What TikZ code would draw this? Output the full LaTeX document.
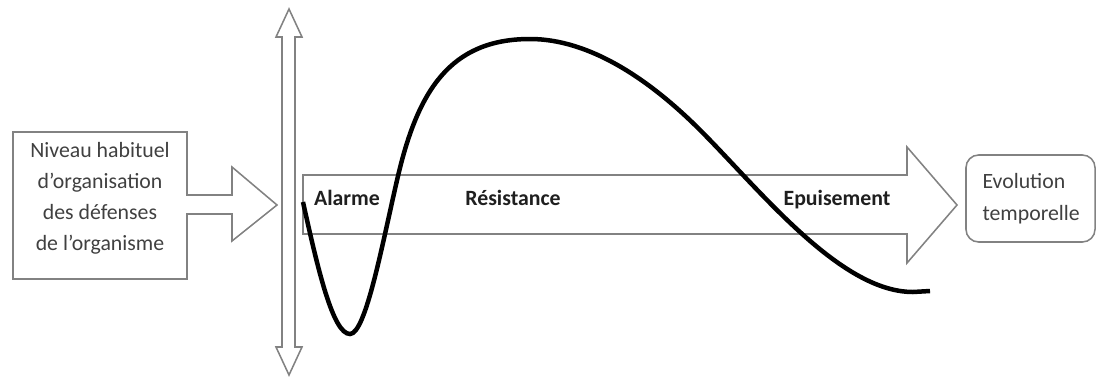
\documentclass[tikz,border=0pt]{standalone}
\usepackage{fontspec}
\setmainfont{Carlito}
\usepackage{xcolor}
\usepackage{tikz}
\usetikzlibrary{positioning}
\definecolor{bord}{HTML}{828282}
\definecolor{ink}{HTML}{404040}

\begin{document}
\begin{tikzpicture}[x=0.025cm,y=-0.025cm,
  outl/.style={draw=bord,line width=1.1pt,line join=miter},
  lbl/.style={font=\fontsize{15.5}{22}\selectfont,text=ink,align=center,inner sep=0pt},
  phase/.style={font=\fontsize{15.5}{18}\selectfont\bfseries,text=black!88,inner sep=0pt,anchor=base},
  courbe/.style={line width=3.2pt}]
\useasboundingbox (0,0) rectangle (1096,382);
% bloc gauche
\draw[outl] (13,132) -- (187,132) -- (187,195) -- (232,195) -- (232,167) -- (277,205) -- (232,241) -- (232,214) -- (187,214) -- (187,279) -- (13,279) -- cycle;
\node[lbl] (niveau) at (100,198.5) {Niveau habituel\\d’organisation\\des défenses\\de l’organisme};
% axe vertical
\draw[outl] (289,9) -- (302,37) -- (295,37) -- (295,347) -- (302,347) -- (289,375) -- (276,347) -- (282,347) -- (282,37) -- (276,37) -- cycle;
% fleche du temps
\draw[outl] (303,175) -- (907,175) -- (907,147) -- (957,205) -- (907,263) -- (907,234) -- (303,234) -- cycle;
\node[phase] (alarme) at (347,205.5) {Alarme};
\node[phase] (resist) at (513,205.5) {Résistance};
\node[phase] (epuis) at (837,205.5) {Epuisement};
% evolution
\node[outl,rounded corners=9pt,minimum width=3.225cm,minimum height=2.175cm,text width=2.4cm,inner xsep=0.4cm,align=left,font=\fontsize{15.5}{22.5}\selectfont,text=ink] (evol) at (1030.5,198.5) {Evolution\\temporelle};
% courbe
\draw[courbe] (303,202) .. controls (318,270) and (333,334) .. (350,334) .. controls (366,334) and (383,240) .. (398,176) .. controls (418,91) and (450,39) .. (530,39) .. controls (590,39) and (650,80) .. (700,130) .. controls (760,190) and (840,292) .. (913,292) -- (930,291);
\end{tikzpicture}
\end{document}
